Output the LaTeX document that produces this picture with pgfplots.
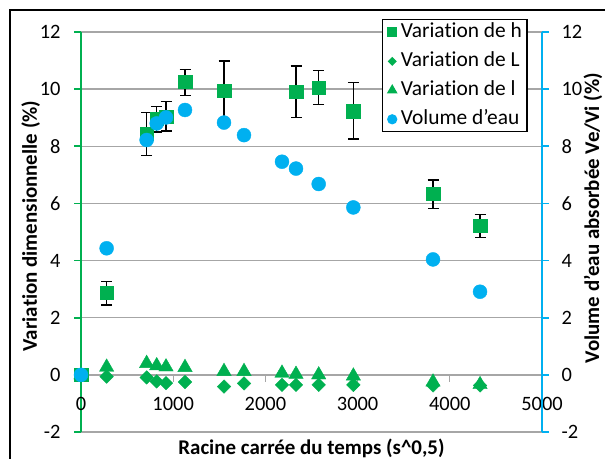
\documentclass[border=0pt]{standalone}
\usepackage{pgfplots}
\pgfplotsset{compat=1.18}
\usepackage{pgfplotstable}
\usepackage{fontspec}
\setmainfont{Carlito}[Ligatures=NoCommon]

\definecolor{vert}{HTML}{00B050}
\definecolor{bleu}{HTML}{00B0F0}
\definecolor{grille}{HTML}{A6A6A6}

% variation de h (avec barres d'erreur)
\pgfplotstableread{
x y ep em
0 0 0 0
278 2.88 0.38 0.43
712 8.45 0.74 0.78
821 8.97 0.43 0.47
922 9.03 0.53 0.49
1128 10.26 0.43 0.48
1551 9.94 1.04 1.04
2332 9.91 0.90 0.91
2578 10.05 0.60 0.59
2954 9.23 1.01 0.98
3818 6.35 0.47 0.52
4328 5.22 0.40 0.41
}\hauteur

% variation de L
\pgfplotstableread{
x y
0 0
278 -0.06
712 -0.09
821 -0.23
922 -0.29
1128 -0.25
1551 -0.41
1768 -0.30
2180 -0.35
2332 -0.35
2578 -0.35
2954 -0.35
3818 -0.37
4328 -0.37
}\longueur

% variation de l
\pgfplotstableread{
x y
0 0
278 0.27
712 0.40
821 0.32
922 0.28
1128 0.26
1551 0.12
1768 0.12
2180 0.06
2332 0.02
2578 0.00
2954 -0.04
3818 -0.25
4328 -0.34
}\largeur

% volume d'eau absorbe
\pgfplotstableread{
x y
0 0
278 4.43
712 8.22
821 8.80
922 9.01
1128 9.27
1551 8.83
1768 8.39
2180 7.46
2332 7.22
2578 6.68
2954 5.86
3818 4.04
4328 2.91
}\volume

\begin{document}
\begin{tikzpicture}
\useasboundingbox (0,0) rectangle (605bp,459bp);
\draw[line width=1.8bp] (10bp,0) -- (10bp,449bp) -- (605bp,449bp);

\begin{axis}[
  at={(81bp,27bp)}, anchor=south west,
  scale only axis, width=461bp, height=400bp,
  xmin=0, xmax=5000, ymin=-2, ymax=12,
  axis x line*=middle, axis y line*=left,
  x axis line style={grille, line width=1.3bp, -},
  y axis line style={vert, line width=1.8bp, -},
  xtick={0,1000,...,5000}, ytick={-2,0,...,12},
  hide obscured x ticks=false, hide obscured y ticks=false,
  tick align=outside, major tick length=7bp,
  x tick style={grille, line width=1.3bp},
  y tick style={vert, line width=1.8bp},
  ymajorgrids, major grid style={grille, line width=1.3bp},
  tick label style={font=\fontsize{20.5}{24}\selectfont},
  x tick label style={yshift=-12bp},
  y tick label style={xshift=-10bp},
  /pgf/number format/assume math mode=true,
  /pgf/number format/set thousands separator={},
  xlabel={Racine carrée du temps (s\textasciicircum0,5)},
  xlabel style={at={(axis description cs:0.5,0)}, anchor=north, yshift=-3bp,
    font=\bfseries\fontsize{21}{24}\selectfont},
  ylabel={Variation dimensionnelle (\%)},
  ylabel style={at={(axis description cs:-0.109,0.515)}, anchor=center,
    font=\bfseries\fontsize{21}{24}\selectfont},
  legend style={at={(axis description cs:0.653,1.032)}, anchor=north west,
    draw=black, line width=1.2bp, fill=white,
    font=\fontsize{21.5}{24}\selectfont, inner xsep=5bp, inner ysep=3bp,
    row sep=10bp, cells={anchor=west},
    nodes={inner sep=0pt, text height=15bp, text depth=4bp},
    /tikz/every odd column/.append style={column sep=4bp}},
]
\addplot[only marks, mark=square*, vert, mark size=6.7bp,
  legend image post style={mark size=4.6bp},
  error bars/.cd, y dir=both, y explicit,
  error bar style={black, line width=1.3bp},
  error mark options={black, rotate=90, mark size=5.5bp, line width=1.3bp}]
  table[x=x, y=y, y error plus=ep, y error minus=em] {\hauteur};
\addlegendentry{Variation de h}
\addplot[only marks, mark=square*, vert, mark size=4.8bp, mark options={rotate=45},
  legend image post style={mark size=2.6bp}]
  table[x=x, y=y] {\longueur};
\addlegendentry{Variation de L}
\addplot[only marks, mark=triangle*, vert, mark size=8.3bp,
  legend image post style={mark size=5bp}]
  table[x=x, y=y] {\largeur};
\addlegendentry{Variation de l}
\addplot[only marks, mark=*, bleu, mark size=7bp,
  legend image post style={mark size=4.5bp}]
  table[x=x, y=y] {\volume};
\addlegendentry{Volume d'eau}
\end{axis}

\begin{axis}[
  at={(81bp,27bp)}, anchor=south west,
  scale only axis, width=461bp, height=400bp,
  xmin=0, xmax=5000, ymin=-2, ymax=12,
  axis x line=none, axis y line*=right,
  y axis line style={bleu, line width=1.8bp, -},
  ytick={-2,0,...,12},
  tick align=outside, major tick length=7bp,
  y tick style={bleu, line width=1.8bp},
  tick label style={font=\fontsize{20.5}{24}\selectfont},
  y tick label style={xshift=9bp},
  /pgf/number format/assume math mode=true,
  ylabel={Volume d'eau absorbée Ve/Vi (\%)},
  ylabel style={at={(axis description cs:1.1106,0.535)}, anchor=center,
    font=\bfseries\fontsize{21}{24}\selectfont},
]
\end{axis}
\end{tikzpicture}
\end{document}
